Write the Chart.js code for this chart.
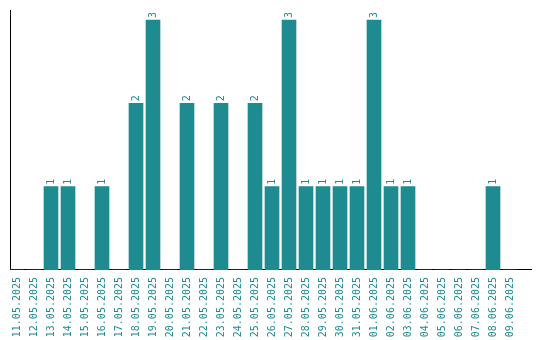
<!DOCTYPE html>
<html>
<head>
<meta charset="utf-8">
<script src="https://cdn.jsdelivr.net/npm/chart.js@4/dist/chart.umd.min.js"></script>
<style>
  html, body { margin: 0; padding: 0; background: #fff; }
  #wrap { width: 540px; height: 340px; }
</style>
</head>
<body>
<div id="wrap"><canvas id="grafico"></canvas></div>
<script>
const dias = ['11.05.2025','12.05.2025','13.05.2025','14.05.2025','15.05.2025','16.05.2025','17.05.2025','18.05.2025','19.05.2025','20.05.2025',
  '21.05.2025','22.05.2025','23.05.2025','24.05.2025','25.05.2025','26.05.2025','27.05.2025','28.05.2025','29.05.2025','30.05.2025',
  '31.05.2025','01.06.2025','02.06.2025','03.06.2025','04.06.2025','05.06.2025','06.06.2025','07.06.2025','08.06.2025','09.06.2025']
const contagem = [0,0,1,1,0,1,0,2,3,0, 2,0,2,0,2,1,3,1,1,1, 1,3,1,1,0,0,0,0,1,0]

const cor = '#1e8b90'
const fonte = '"DejaVu Sans Mono", monospace'

// rotated value labels above each bar
const rotulos = {
  id: 'rotulos',
  afterDatasetsDraw(chart) {
    const c = chart.ctx
    const meta = chart.getDatasetMeta(0)
    c.save()
    c.fillStyle = cor
    c.font = '10px ' + fonte
    c.textAlign = 'left'
    c.textBaseline = 'middle'
    meta.data.forEach((bar, i) => {
      if (!contagem[i]) return
      c.save()
      c.translate(bar.x, bar.y - 2)
      c.rotate(-Math.PI / 2)
      c.fillText(String(contagem[i]), 0, 0)
      c.restore()
    })
    c.restore()
  }
}

new Chart(document.getElementById('grafico'), {
  type: 'bar',
  data: {
    datasets: [{
      data: dias.map((d, i) => ({ x: i, y: contagem[i] })),
      backgroundColor: cor,
      barThickness: 14
    }]
  },
  options: {
    responsive: true,
    maintainAspectRatio: false,
    animation: false,
    layout: { padding: { left: 10, right: 9, top: 10, bottom: -4.2 } },
    plugins: { legend: { display: false }, tooltip: { enabled: false } },
    scales: {
      x: {
        type: 'linear',
        offset: false,
        min: -0.412,
        max: 30.235,
        grid: { display: false, drawTicks: false },
        border: { display: true, color: '#000', width: 1 },
        afterBuildTicks: s => { s.ticks = dias.map((d, i) => ({ value: i })) },
        afterFit: s => { s.paddingLeft = 0; s.paddingRight = 0 },
        ticks: {
          autoSkip: false,
          minRotation: 90,
          maxRotation: 90,
          padding: 7,
          color: cor,
          font: { family: fonte, size: 10 },
          callback: v => dias[v] || ''
        }
      },
      y: {
        min: 0,
        max: 3.12,
        grid: { display: false, drawTicks: false },
        border: { display: true, color: '#000', width: 1 },
        ticks: { display: false }
      }
    }
  },
  plugins: [rotulos]
})
</script>
</body>
</html>
